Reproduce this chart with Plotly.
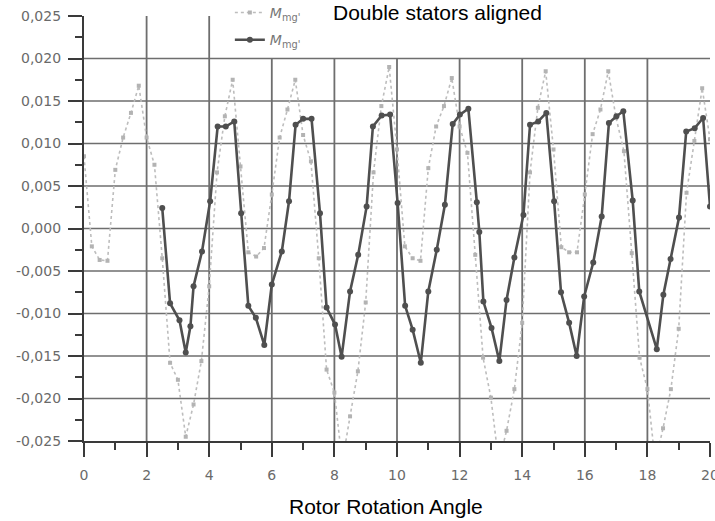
import plotly.graph_objects as go

# Rotor rotation angle samples and torque values for both curves
light_x = [0.0, 0.25, 0.5, 0.75, 1.0, 1.25, 1.5, 1.75, 2.0, 2.25, 2.5, 2.75, 3.0, 3.25, 3.5, 3.75,
           4.0, 4.25, 4.5, 4.75, 5.0, 5.25, 5.5, 5.75, 6.0, 6.25, 6.5, 6.75, 7.0, 7.25, 7.5, 7.75,
           8.0, 8.25, 8.5, 8.75, 9.0, 9.25, 9.5, 9.75, 10.0, 10.25, 10.5, 10.75, 11.0, 11.25, 11.5,
           11.75, 12.0, 12.25, 12.5, 12.75, 13.0, 13.25, 13.5, 13.75, 14.0, 14.25, 14.5, 14.75, 15.0,
           15.25, 15.5, 15.75, 16.0, 16.25, 16.5, 16.75, 17.0, 17.25, 17.5, 17.75, 18.0, 18.25, 18.5,
           18.75, 19.0, 19.25, 19.5, 19.75, 20.0]
light_y = [0.0085, -0.0021, -0.0037, -0.0038, 0.0069, 0.0107, 0.0136, 0.0168, 0.0107, 0.0075,
           -0.0035, -0.0158, -0.0178, -0.0245, -0.0207, -0.0156, -0.0068, 0.0066, 0.0132, 0.0175,
           0.0073, -0.0028, -0.0033, -0.0023, 0.0040, 0.0107, 0.0140, 0.0175, 0.0110, 0.0079,
           -0.0035, -0.0166, -0.0193, -0.0275, -0.0221, -0.0168, -0.0087, 0.0066, 0.0144, 0.0190,
           0.0093, -0.0021, -0.0035, -0.0038, 0.0071, 0.0120, 0.0144, 0.0177, 0.0120, 0.0089,
           -0.0031, -0.0152, -0.0199, -0.0275, -0.0238, -0.0189, -0.0111, 0.0066, 0.0142, 0.0185,
           0.0093, -0.0022, -0.0028, -0.0028, 0.0040, 0.0111, 0.0140, 0.0185, 0.0130, 0.0091,
           -0.0029, -0.0152, -0.0189, -0.0275, -0.0235, -0.0189, -0.0118, 0.0042, 0.0103, 0.0165,
           0.0105]

dark_x = [2.50, 2.75, 3.05, 3.25, 3.40, 3.50, 3.77, 4.03, 4.27, 4.53, 4.80, 5.02, 5.25, 5.49,
          5.76, 6.00, 6.32, 6.55, 6.76, 7.00, 7.27, 7.54, 7.75, 8.02, 8.23, 8.50, 8.76, 9.03,
          9.23, 9.51, 9.78, 10.02, 10.26, 10.50, 10.76, 11.00, 11.27, 11.53, 11.78, 12.01, 12.28,
          12.55, 12.63, 12.76, 13.02, 13.27, 13.50, 13.75, 14.04, 14.25, 14.51, 14.77, 15.02,
          15.24, 15.50, 15.74, 15.98, 16.27, 16.54, 16.77, 17.01, 17.23, 17.53, 17.74, 18.30,
          18.51, 18.74, 19.01, 19.24, 19.51, 19.78, 20.00]
dark_y = [0.0024, -0.0088, -0.0108, -0.0146, -0.0115, -0.0068, -0.0027, 0.0032, 0.0120, 0.0120,
          0.0126, 0.0018, -0.0091, -0.0105, -0.0137, -0.0066, -0.0027, 0.0032, 0.0122, 0.0129,
          0.0129, 0.0018, -0.0093, -0.0113, -0.0151, -0.0074, -0.0031, 0.0026, 0.0120, 0.0133,
          0.0134, 0.0030, -0.0091, -0.0119, -0.0158, -0.0074, -0.0025, 0.0028, 0.0123, 0.0134,
          0.0141, 0.0031, -0.0004, -0.0086, -0.0117, -0.0156, -0.0084, -0.0034, 0.0016, 0.0122,
          0.0126, 0.0136, 0.0032, -0.0075, -0.0111, -0.0150, -0.0080, -0.0040, 0.0014, 0.0124,
          0.0132, 0.0138, 0.0033, -0.0074, -0.0142, -0.0078, -0.0036, 0.0013, 0.0114, 0.0118,
          0.0130, 0.0026]

series_names = ["<i>M</i><sub>mg'</sub>", "<i>M</i><sub>mg'</sub>"]

x_ticks = [0, 2, 4, 6, 8, 10, 12, 14, 16, 18, 20]
y_ticks = [-0.025, -0.020, -0.015, -0.010, -0.005, 0.0, 0.005, 0.010, 0.015, 0.020, 0.025]
y_tick_text = ["-0,025", "-0,020", "-0,015", "-0,010", "-0,005", "0,000",
               "0,005", "0,010", "0,015", "0,020", "0,025"]

# grid lines: horizontal at inner y ticks, vertical at inner x ticks
h_grid = [-0.020, -0.015, -0.010, -0.005, 0.0, 0.005, 0.010, 0.015, 0.020]
v_grid = [2, 4, 6, 8, 10, 12, 14, 16, 18]
v_grid_top = [0.025, 0.025, 0.020, 0.020, 0.020, 0.020, 0.020, 0.020, 0.020]

title_text = "Double stators aligned"
x_title = "Rotor Rotation Angle"

GRID = "#6e6e6e"
AXIS = "#3a3a3a"
TICKFONT = dict(family="DejaVu Sans", size=14, color="#6a6a6a")

fig = go.Figure()

fig.add_trace(go.Scatter(
    x=light_x, y=light_y, name=series_names[0], mode="lines+markers", legendgroup="a",
    line=dict(color="#bdbdbd", width=1.6, dash="dot"),
    marker=dict(symbol="square", size=4, color="#b3b3b3"),
))
fig.add_trace(go.Scatter(
    x=dark_x, y=dark_y, name=series_names[1], mode="lines+markers", legendgroup="b",
    line=dict(color="#4f4f4f", width=2.6),
    marker=dict(symbol="circle", size=6, color="#4f4f4f"),
))

shapes = []
for yv in h_grid:
    shapes.append(dict(type="line", xref="x", yref="y", x0=0, x1=20, y0=yv, y1=yv,
                       line=dict(color=GRID, width=1.6), layer="below"))
for xv, top in zip(v_grid, v_grid_top):
    shapes.append(dict(type="line", xref="x", yref="y", x0=xv, x1=xv, y0=-0.025, y1=top,
                       line=dict(color=GRID, width=1.8), layer="below"))

fig.update_layout(
    width=715, height=521,
    margin=dict(l=84, r=5, t=16, b=80, autoexpand=False),
    paper_bgcolor="white", plot_bgcolor="white",
    shapes=shapes,
    showlegend=True,
    legend=dict(x=0.233, y=1.045, xanchor="left", yanchor="top",
                bgcolor="rgba(0,0,0,0)", tracegroupgap=6,
                font=dict(family="DejaVu Sans", size=14, color="#777777")),
    annotations=[
        dict(text=title_text, xref="paper", yref="paper", x=0.564, y=1.008,
             xanchor="center", yanchor="middle", showarrow=False,
             font=dict(family="Liberation Sans", size=21, color="black")),
        dict(text=x_title, xref="paper", yref="paper", x=0.4824, y=-0.155,
             xanchor="center", yanchor="middle", showarrow=False,
             font=dict(family="Liberation Sans", size=21, color="black")),
    ],
)

fig.update_xaxes(
    range=[0, 20], tickvals=x_ticks, showgrid=False, zeroline=False, automargin=False,
    showline=True, linecolor=AXIS, linewidth=2.2,
    ticks="outside", ticklen=14, tickwidth=2, tickcolor=AXIS,
    tickfont=TICKFONT, ticklabelstandoff=6, ticklabeloverflow="allow",
    minor=dict(dtick=1, tick0=0, ticks="outside", ticklen=7, tickwidth=2,
               tickcolor=AXIS, showgrid=False),
)
fig.update_yaxes(
    range=[-0.025, 0.025], tickvals=y_ticks, ticktext=y_tick_text,
    showgrid=False, zeroline=False, automargin=False,
    showline=True, linecolor=AXIS, linewidth=2.2,
    ticks="outside", ticklen=14, tickwidth=2, tickcolor=AXIS,
    tickfont=TICKFONT, ticklabelstandoff=4,
    minor=dict(dtick=0.0025, tick0=0, ticks="outside", ticklen=7, tickwidth=2,
               tickcolor=AXIS, showgrid=False),
)

fig.write_html("out.html")
